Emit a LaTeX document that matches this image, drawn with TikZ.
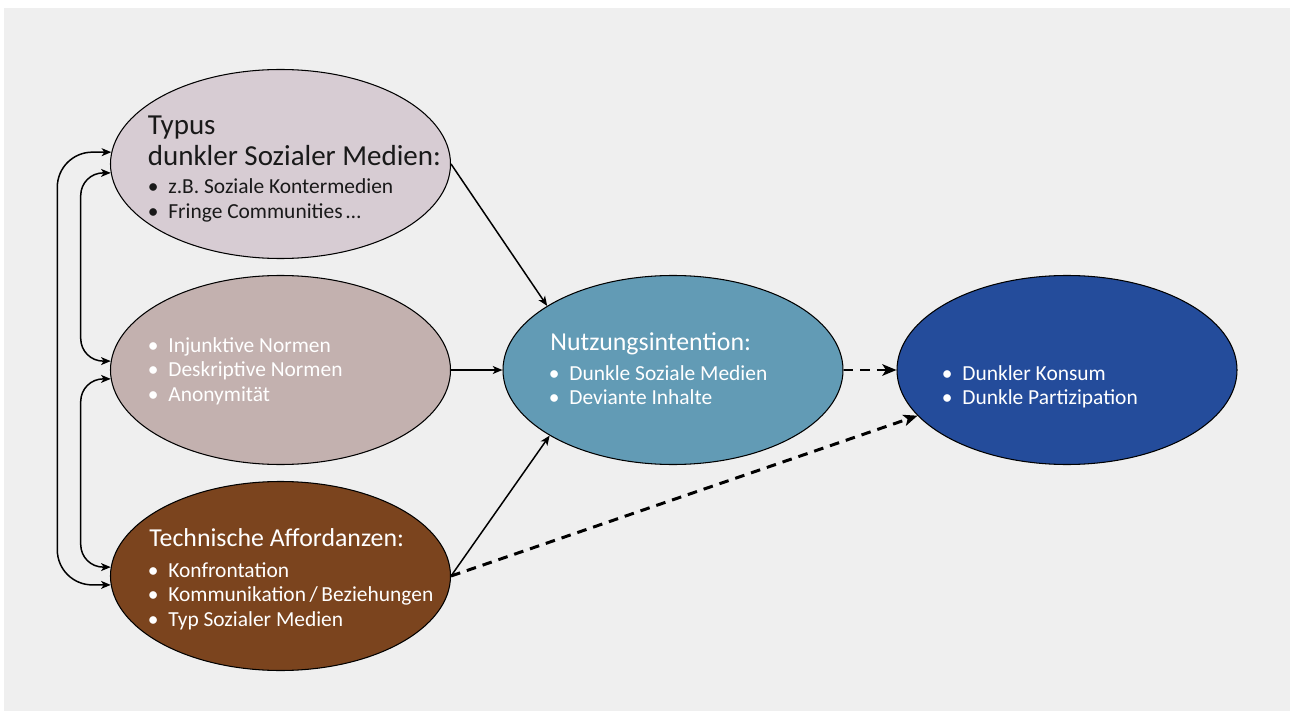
\documentclass[tikz,border=0pt]{standalone}
\usepackage{fontspec}
\setmainfont{Carlito}
\usepackage{tikz}
\usetikzlibrary{shapes.geometric}
\usetikzlibrary{arrows.meta}
\definecolor{bgGrey}{HTML}{EFEFEF}
\definecolor{typFill}{HTML}{D7CCD3}
\definecolor{normFill}{HTML}{C3B1AF}
\definecolor{techFill}{HTML}{7B441E}
\definecolor{nutzFill}{HTML}{629BB5}
\definecolor{darkFill}{HTML}{244C9B}
\newcommand{\hdfont}{\fontsize{14.7}{17.6}\selectfont}
\newcommand{\bighdfont}{\fontsize{16.5}{17.6}\selectfont}
\newcommand{\itfont}{\fontsize{12.2}{14.2}\selectfont}
\newcommand{\itm}[1]{\makebox[0.41cm][l]{\textbullet}#1}
\newcommand{\rows}[1]{\begin{tabular}[t]{@{}l@{}}#1\end{tabular}}

\begin{document}
\begin{tikzpicture}[
    blob/.style={ellipse, draw=black, line width=0.6pt, minimum width=6.8cm,
                 minimum height=3.78cm, inner sep=0pt},
    head/.style={anchor=base west, inner sep=0pt, font=\hdfont},
    items/.style={anchor=base west, inner sep=0pt, font=\itfont},
    link/.style={line width=0.85pt, -{Stealth[length=5.5pt,width=4.5pt,inset=1.5pt]}},
    dlink/.style={line width=1.7pt, dash pattern=on 5.5pt off 4pt,
                  -{Stealth[length=8pt,width=6.5pt,inset=2pt]}},
    both/.style={line width=0.85pt,
                 {Stealth[length=5.5pt,width=4.5pt,inset=1.5pt]}-{Stealth[length=5.5pt,width=4.5pt,inset=1.5pt]}}
  ]
    \useasboundingbox (0,0) rectangle (25.8,14.22);
    \fill[white] (0,0) rectangle (25.8,14.22);
    \fill[bgGrey] (0.08,0) rectangle (25.8,14.06);
    % Ellipses
    \node[blob, fill=typFill]  (typ)  at (5.61,10.94) {};
    \node[blob, fill=normFill] (norm) at (5.61,6.82) {};
    \node[blob, fill=techFill] (tech) at (5.61,2.70) {};
    \node[blob, fill=nutzFill] (nutz) at (13.46,6.82) {};
    \node[blob, fill=darkFill] (dark) at (21.34,6.82) {};
    % Texts
    \node[head, font=\bighdfont, text=black!90] (typHead) at (2.95,11.52) {\rows{Typus\\dunkler Sozialer Medien:}};
    \node[items, text=black!90] (typList) at (2.95,10.34) {\rows{\itm{z.B. Soziale Kontermedien}\\\itm{Fringe Communities\,\dots}}};
    \node[items, text=white] (normList) at (2.95,7.18) {\rows{\itm{Injunktive Normen}\\\itm{Deskriptive Normen}\\\itm{Anonymität}}};
    \node[head, text=white] (techHead) at (2.98,3.30) {Technische Affordanzen:};
    \node[items, text=white] (techList) at (2.95,2.68) {\rows{\itm{Konfrontation}\\\itm{Kommunikation\,/\,Beziehungen}\\\itm{Typ Sozialer Medien}}};
    \node[head, text=white] (nutzHead) at (11.0,7.22) {Nutzungsintention:};
    \node[items, text=white] (nutzList) at (10.97,6.62) {\rows{\itm{Dunkle Soziale Medien}\\\itm{Deviante Inhalte}}};
    \node[items, text=white] (darkList) at (18.83,6.62) {\rows{\itm{Dunkler Konsum}\\\itm{Dunkle Partizipation}}};
    % Effects on intention
    \draw[link] (typ.east) -- (nutz.153);
    \draw[link] (norm.east) -- (nutz.west);
    \draw[link] (tech.east) -- (nutz.208);
    % Effects on behaviour
    \draw[dlink] (nutz.east) -- (dark.west);
    \draw[dlink] (tech.east) -- (dark.197);
    % Interrelations of the predictors
    \draw[both, rounded corners=0.7cm] (typ.176.3) -- ++(-1.08,0) |- (tech.183.5);
    \draw[both, rounded corners=0.45cm] (typ.183) -- ++(-0.6,0) |- (norm.177);
    \draw[both, rounded corners=0.45cm] (norm.183) -- ++(-0.6,0) |- (tech.177);
\end{tikzpicture}
\end{document}
